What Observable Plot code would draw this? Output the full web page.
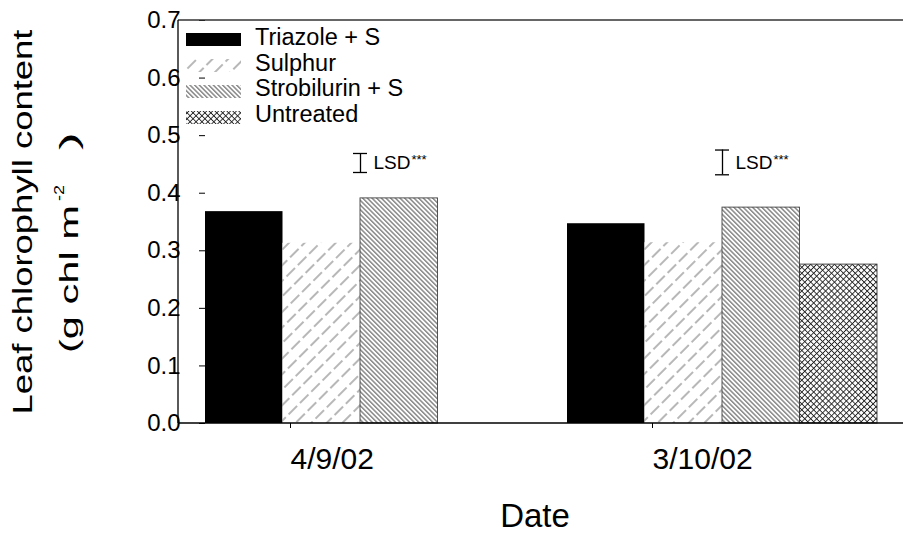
<!DOCTYPE html>
<html>
<head>
<meta charset="utf-8">
<script src="https://cdn.jsdelivr.net/npm/d3@7"></script>
<script src="https://cdn.jsdelivr.net/npm/@observablehq/plot@0.6"></script>
<style>
  html, body { margin: 0; padding: 0; background: #fff; }
  #chart svg { display: block; }
</style>
</head>
<body>
<div id="chart"></div>
<script>
// ---- data ----
const dates = ["4/9/02", "3/10/02"];
const treatments = ["Triazole + S", "Sulphur", "Strobilurin + S", "Untreated"];
const triazole = [0.368, 0.347];
const sulphur = [0.313, 0.314];
const strobilurin = [0.391, 0.375];
const untreated = [null, 0.276];
const lsdMid = [0.4525, 0.4535];
const lsdValue = [0.033, 0.043];
const yTicks = [0, 0.1, 0.2, 0.3, 0.4, 0.5, 0.6, 0.7];
const yLabel1 = "Leaf chlorophyll content";
const xLabel = "Date";
const lsdText = "LSD";
const lsdStars = "***";

// ---- tables ----
const series = [triazole, sulphur, strobilurin, untreated];
const rows = dates.flatMap((date, j) =>
  series.map((s, i) => ({date, treatment: treatments[i], i, value: s[j]}))
).filter(d => d.value != null);
const stroIdx = treatments.indexOf("Strobilurin + S");
const lsdRows = dates.map((date, j) => ({
  date, mid: lsdMid[j], lo: lsdMid[j] - lsdValue[j] / 2, hi: lsdMid[j] + lsdValue[j] / 2
}));

const font = "'Liberation Sans', Arial, Helvetica, sans-serif";
const fills = ["#000", "url(#pSul)", "url(#pStr)", "url(#pUnt)"];
const strokes = ["none", "none", "#444", "#333"];

const bars = treatments.map((t, k) => Plot.rect(rows.filter(d => d.i === k), {
  fx: "date", x1: "i", x2: d => d.i + 1, y1: 0, y2: "value",
  fill: fills[k], stroke: strokes[k], strokeWidth: 0.9
}));

const plot = Plot.plot({
  width: 903, height: 535,
  marginLeft: 178, marginRight: 0, marginTop: 20, marginBottom: 112,
  style: {fontFamily: font, background: "#fff", color: "#000"},
  fx: {domain: dates, paddingInner: 0.143, paddingOuter: 0.0716, align: 0.52, label: null},
  x: {domain: [0, 4], axis: null},
  y: {domain: [0, 0.7], axis: null},
  marks: [
    ...bars,
    Plot.ruleX(lsdRows, {fx: "date", x: stroIdx, y1: "lo", y2: "hi", stroke: "#000", strokeWidth: 1.3}),
    Plot.ruleY(lsdRows, {fx: "date", y: "hi", x1: stroIdx, x2: stroIdx, insetLeft: -7, insetRight: -7, stroke: "#000", strokeWidth: 1.3}),
    Plot.ruleY(lsdRows, {fx: "date", y: "lo", x1: stroIdx, x2: stroIdx, insetLeft: -7, insetRight: -7, stroke: "#000", strokeWidth: 1.3}),
    Plot.text(lsdRows, {fx: "date", x: stroIdx, y: "mid", text: () => lsdText, textAnchor: "start", dx: 13, fontSize: 19, fill: "#000"}),
    Plot.text(lsdRows, {fx: "date", x: stroIdx, y: "mid", text: () => lsdStars, textAnchor: "start", dx: 51, dy: -3, fontSize: 13, fill: "#000"}),
    Plot.axisY({ticks: yTicks, tickFormat: d3.format(".1f"), tickSize: 6, tickPadding: 19, fontSize: 24, label: null}),
    Plot.axisFx({anchor: "bottom", tickSize: 5, tickPadding: 19, fontSize: 30, label: null, textAnchor: "start", dx: -70})
  ]
});

document.getElementById("chart").appendChild(plot);

// ---- patterns, frame, titles, legend ----
const svg = d3.select(plot);
const defs = svg.insert("defs", ":first-child");
function linePattern(id, w, h, angle, lines, stroke, sw) {
  const p = defs.append("pattern").attr("id", id).attr("patternUnits", "userSpaceOnUse")
    .attr("width", w).attr("height", h).attr("patternTransform", `rotate(${angle})`);
  p.append("rect").attr("width", w).attr("height", h).attr("fill", "#fff");
  lines.forEach(([x1, y1, x2, y2]) => {
    p.append("line").attr("x1", x1).attr("y1", y1).attr("x2", x2).attr("y2", y2)
      .attr("stroke", stroke).attr("stroke-width", sw);
  });
}
linePattern("pSul", 11, 16, 45, [[5, 0, 5, 12]], "#707070", 1);
linePattern("pStr", 3.3, 10, -45, [[1.6, 0, 1.6, 10]], "#3a3a3a", 0.9);
linePattern("pUnt", 4.2, 4.2, 45, [[2.1, 0, 2.1, 4.2], [0, 2.1, 4.2, 2.1]], "#222", 0.9);

const ys = plot.scale("y");
const yTop = ys.apply(0.7), yBot = ys.apply(0);
const xL = 178, xR = 903;
const frame = svg.append("g").attr("stroke", "#000").attr("fill", "none");
frame.append("line").attr("x1", xL).attr("x2", xR).attr("y1", yTop).attr("y2", yTop).attr("stroke", "#333").attr("stroke-width", 1.5);
frame.append("line").attr("x1", xL).attr("x2", xR).attr("y1", yBot).attr("y2", yBot).attr("stroke-width", 1.3);
frame.append("line").attr("x1", xL).attr("x2", xL).attr("y1", yTop).attr("y2", yBot).attr("stroke-width", 1.3);

const txt = svg.append("g").attr("font-family", font).attr("fill", "#000");
txt.append("text").attr("transform", "translate(32,222) rotate(-90)")
  .attr("text-anchor", "middle").attr("font-size", 27)
  .attr("textLength", 385).attr("lengthAdjust", "spacingAndGlyphs").text(yLabel1);
txt.append("text").attr("transform", "translate(78,353) rotate(-90)").attr("text-anchor", "start")
  .attr("font-size", 26).attr("textLength", 148).attr("lengthAdjust", "spacingAndGlyphs").text("(g chl m");
txt.append("text").attr("transform", "translate(64,201) rotate(-90)").attr("text-anchor", "start")
  .attr("font-size", 15).attr("textLength", 16).attr("lengthAdjust", "spacingAndGlyphs").text("-2");
txt.append("text").attr("transform", "translate(78,150) rotate(-90)").attr("text-anchor", "start")
  .attr("font-size", 26).attr("textLength", 18).attr("lengthAdjust", "spacingAndGlyphs").text(")");
txt.append("text").attr("x", 535).attr("y", 527).attr("text-anchor", "middle")
  .attr("font-size", 33).text(xLabel);

// legend
const legY = [33, 59, 85, 111];
const legBase = [45, 71, 96, 122];
const leg = svg.append("g").attr("font-family", font);
treatments.forEach((t, k) => {
  leg.append("rect").attr("x", 186).attr("y", legY[k]).attr("width", 55).attr("height", 13)
    .attr("fill", fills[k]);
  leg.append("text").attr("x", 255).attr("y", legBase[k]).attr("text-anchor", "start")
    .attr("font-size", 23.5).attr("fill", "#000").text(t);
});
</script>
</body>
</html>
